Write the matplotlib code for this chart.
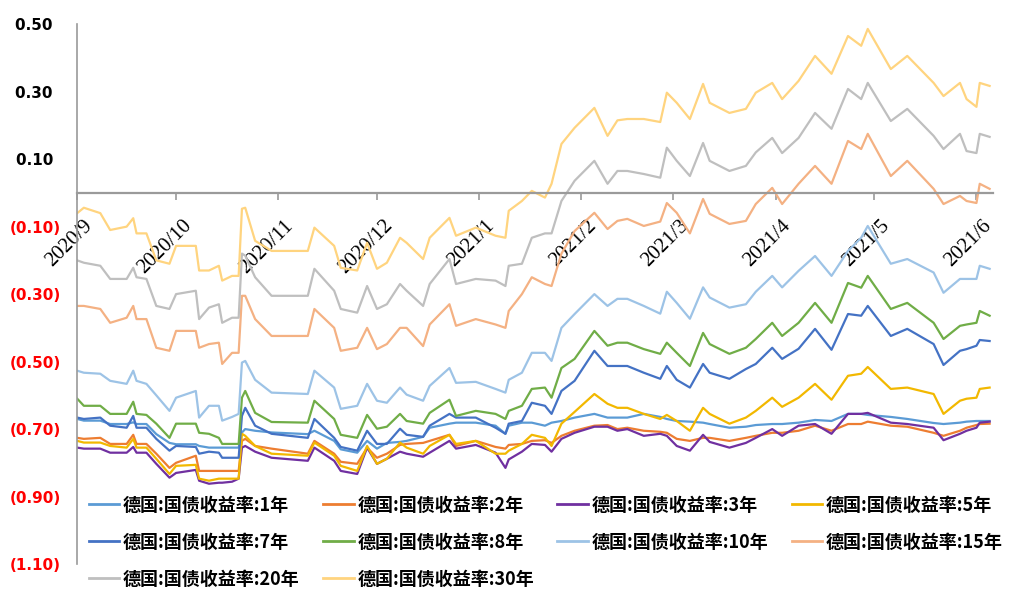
import numpy as np
import pandas as pd
import matplotlib
matplotlib.use("Agg")
import matplotlib.pyplot as plt
from matplotlib.transforms import ScaledTranslation

plt.rcParams['font.family'] = ['Noto Sans CJK SC', 'DejaVu Sans']

# observation dates (sampled)
dates = pd.to_datetime([
    "2020-09-01", "2020-09-03", "2020-09-08", "2020-09-11", "2020-09-16", "2020-09-18",
    "2020-09-19", "2020-09-22", "2020-09-25", "2020-09-29", "2020-10-01", "2020-10-07",
    "2020-10-08", "2020-10-11", "2020-10-14", "2020-10-15", "2020-10-18", "2020-10-20",
    "2020-10-21", "2020-10-22", "2020-10-25", "2020-10-30", "2020-11-10", "2020-11-12",
    "2020-11-18", "2020-11-20", "2020-11-25", "2020-11-28", "2020-12-01", "2020-12-04",
    "2020-12-08", "2020-12-10", "2020-12-15", "2020-12-17", "2020-12-23", "2020-12-25",
    "2020-12-31", "2021-01-06", "2021-01-09", "2021-01-10", "2021-01-14", "2021-01-17",
    "2021-01-21", "2021-01-23", "2021-01-26", "2021-01-30", "2021-02-05", "2021-02-09",
    "2021-02-12", "2021-02-15", "2021-02-20", "2021-02-25", "2021-02-27", "2021-03-02",
    "2021-03-06", "2021-03-10", "2021-03-12", "2021-03-18", "2021-03-23", "2021-03-26",
    "2021-03-31", "2021-04-03", "2021-04-08", "2021-04-13", "2021-04-18", "2021-04-23",
    "2021-04-27", "2021-04-29", "2021-05-06", "2021-05-11", "2021-05-19", "2021-05-22",
    "2021-05-27", "2021-05-29", "2021-06-01", "2021-06-02", "2021-06-05",
])

y1 = [-0.670, -0.675, -0.675, -0.685, -0.685, -0.680, -0.685, -0.685, -0.715, -0.741,
      -0.745, -0.745, -0.750, -0.755, -0.755, -0.755, -0.755, -0.755, -0.710, -0.700,
      -0.705, -0.710, -0.715, -0.705, -0.735, -0.760, -0.770, -0.735, -0.758, -0.741,
      -0.738, -0.735, -0.723, -0.696, -0.684, -0.681, -0.681, -0.690, -0.714, -0.690,
      -0.681, -0.681, -0.690, -0.681, -0.676, -0.666, -0.655, -0.666, -0.666, -0.666,
      -0.655, -0.664, -0.670, -0.676, -0.678, -0.681, -0.685, -0.696, -0.693, -0.688,
      -0.685, -0.685, -0.681, -0.673, -0.676, -0.655, -0.655, -0.658, -0.664, -0.670,
      -0.682, -0.685, -0.681, -0.678, -0.676, -0.676, -0.676]

y2 = [-0.726, -0.729, -0.726, -0.744, -0.744, -0.717, -0.744, -0.744, -0.773, -0.815,
      -0.800, -0.779, -0.824, -0.824, -0.824, -0.824, -0.824, -0.824, -0.735, -0.729,
      -0.750, -0.758, -0.773, -0.735, -0.773, -0.797, -0.803, -0.755, -0.785, -0.773,
      -0.747, -0.744, -0.741, -0.735, -0.717, -0.750, -0.735, -0.753, -0.758, -0.747,
      -0.744, -0.735, -0.733, -0.741, -0.720, -0.705, -0.690, -0.688, -0.700, -0.696,
      -0.705, -0.708, -0.711, -0.729, -0.735, -0.726, -0.726, -0.735, -0.726, -0.720,
      -0.711, -0.711, -0.705, -0.690, -0.705, -0.685, -0.685, -0.678, -0.690, -0.693,
      -0.711, -0.720, -0.705, -0.696, -0.688, -0.685, -0.684]

y3 = [-0.755, -0.758, -0.758, -0.770, -0.770, -0.753, -0.770, -0.770, -0.803, -0.844,
      -0.830, -0.821, -0.853, -0.862, -0.859, -0.859, -0.856, -0.847, -0.755, -0.750,
      -0.767, -0.785, -0.794, -0.755, -0.794, -0.824, -0.833, -0.755, -0.803, -0.788,
      -0.767, -0.773, -0.782, -0.770, -0.735, -0.758, -0.747, -0.770, -0.815, -0.790,
      -0.767, -0.744, -0.747, -0.767, -0.729, -0.711, -0.693, -0.693, -0.705, -0.700,
      -0.720, -0.714, -0.720, -0.750, -0.764, -0.717, -0.738, -0.755, -0.741, -0.726,
      -0.700, -0.720, -0.690, -0.685, -0.714, -0.655, -0.655, -0.652, -0.681, -0.685,
      -0.696, -0.733, -0.714, -0.705, -0.696, -0.681, -0.678]

y5 = [-0.735, -0.740, -0.740, -0.750, -0.755, -0.729, -0.755, -0.755, -0.788, -0.833,
      -0.809, -0.806, -0.847, -0.853, -0.847, -0.847, -0.847, -0.847, -0.714, -0.720,
      -0.750, -0.773, -0.779, -0.740, -0.779, -0.809, -0.824, -0.750, -0.803, -0.788,
      -0.740, -0.755, -0.773, -0.750, -0.717, -0.744, -0.735, -0.773, -0.773, -0.764,
      -0.744, -0.717, -0.726, -0.750, -0.684, -0.649, -0.596, -0.625, -0.637, -0.637,
      -0.655, -0.670, -0.658, -0.676, -0.705, -0.637, -0.655, -0.684, -0.666, -0.646,
      -0.607, -0.634, -0.607, -0.566, -0.613, -0.542, -0.536, -0.516, -0.581, -0.577,
      -0.596, -0.655, -0.616, -0.610, -0.607, -0.581, -0.577]

y7 = [-0.666, -0.670, -0.666, -0.690, -0.696, -0.661, -0.696, -0.696, -0.729, -0.764,
      -0.750, -0.753, -0.773, -0.767, -0.770, -0.785, -0.785, -0.785, -0.661, -0.637,
      -0.690, -0.714, -0.726, -0.670, -0.726, -0.753, -0.764, -0.705, -0.744, -0.744,
      -0.699, -0.717, -0.723, -0.690, -0.655, -0.666, -0.666, -0.696, -0.714, -0.684,
      -0.676, -0.622, -0.631, -0.655, -0.587, -0.557, -0.468, -0.513, -0.513, -0.513,
      -0.533, -0.551, -0.513, -0.554, -0.577, -0.507, -0.533, -0.551, -0.522, -0.507,
      -0.459, -0.492, -0.462, -0.403, -0.465, -0.359, -0.364, -0.335, -0.424, -0.403,
      -0.448, -0.510, -0.468, -0.463, -0.453, -0.436, -0.439]

y8 = [-0.610, -0.631, -0.631, -0.655, -0.655, -0.619, -0.655, -0.658, -0.684, -0.726,
      -0.684, -0.684, -0.711, -0.714, -0.726, -0.744, -0.744, -0.744, -0.607, -0.587,
      -0.652, -0.679, -0.681, -0.616, -0.670, -0.717, -0.726, -0.658, -0.699, -0.693,
      -0.655, -0.676, -0.684, -0.652, -0.613, -0.661, -0.646, -0.655, -0.670, -0.646,
      -0.631, -0.581, -0.577, -0.607, -0.519, -0.492, -0.409, -0.453, -0.444, -0.444,
      -0.463, -0.477, -0.444, -0.474, -0.513, -0.415, -0.448, -0.477, -0.459, -0.433,
      -0.385, -0.424, -0.385, -0.326, -0.385, -0.267, -0.281, -0.246, -0.344, -0.326,
      -0.385, -0.433, -0.394, -0.390, -0.385, -0.350, -0.364]

y10 = [-0.527, -0.533, -0.536, -0.557, -0.566, -0.527, -0.557, -0.566, -0.600, -0.646,
       -0.607, -0.587, -0.666, -0.631, -0.631, -0.675, -0.664, -0.655, -0.503, -0.498,
       -0.554, -0.592, -0.596, -0.527, -0.577, -0.640, -0.631, -0.566, -0.616, -0.622,
       -0.577, -0.598, -0.616, -0.572, -0.519, -0.563, -0.560, -0.581, -0.592, -0.554,
       -0.533, -0.474, -0.474, -0.498, -0.400, -0.359, -0.300, -0.335, -0.314, -0.314,
       -0.335, -0.358, -0.293, -0.326, -0.373, -0.280, -0.310, -0.340, -0.330, -0.293,
       -0.246, -0.280, -0.231, -0.187, -0.246, -0.172, -0.133, -0.098, -0.210, -0.196,
       -0.236, -0.296, -0.255, -0.255, -0.255, -0.216, -0.225]

y15 = [-0.335, -0.335, -0.344, -0.385, -0.370, -0.335, -0.374, -0.374, -0.459, -0.468,
       -0.409, -0.409, -0.459, -0.448, -0.444, -0.507, -0.474, -0.474, -0.305, -0.305,
       -0.374, -0.424, -0.424, -0.344, -0.400, -0.468, -0.459, -0.400, -0.463, -0.448,
       -0.400, -0.400, -0.454, -0.390, -0.330, -0.394, -0.374, -0.390, -0.400, -0.350,
       -0.300, -0.250, -0.270, -0.276, -0.180, -0.113, -0.059, -0.107, -0.083, -0.077,
       -0.098, -0.085, -0.030, -0.059, -0.120, -0.018, -0.062, -0.092, -0.083, -0.033,
       0.015, -0.033, 0.027, 0.080, 0.027, 0.154, 0.130, 0.175, 0.050, 0.095,
       0.012, -0.033, -0.009, -0.024, -0.030, 0.027, 0.012]

y20 = [-0.200, -0.207, -0.216, -0.255, -0.255, -0.222, -0.250, -0.255, -0.335, -0.344,
       -0.300, -0.290, -0.374, -0.340, -0.330, -0.385, -0.370, -0.370, -0.180, -0.186,
       -0.250, -0.305, -0.305, -0.225, -0.290, -0.344, -0.355, -0.276, -0.344, -0.330,
       -0.270, -0.290, -0.335, -0.270, -0.196, -0.270, -0.255, -0.260, -0.276, -0.216,
       -0.210, -0.133, -0.120, -0.120, -0.024, 0.036, 0.095, 0.027, 0.065, 0.065,
       0.056, 0.045, 0.134, 0.095, 0.050, 0.148, 0.095, 0.065, 0.080, 0.120,
       0.163, 0.118, 0.163, 0.237, 0.190, 0.308, 0.278, 0.326, 0.213, 0.249,
       0.169, 0.130, 0.175, 0.124, 0.118, 0.175, 0.166]

y30 = [-0.060, -0.044, -0.060, -0.110, -0.100, -0.075, -0.120, -0.120, -0.200, -0.210,
       -0.157, -0.157, -0.230, -0.230, -0.216, -0.260, -0.246, -0.246, -0.047, -0.044,
       -0.142, -0.172, -0.172, -0.103, -0.157, -0.222, -0.230, -0.148, -0.225, -0.207,
       -0.133, -0.148, -0.196, -0.133, -0.074, -0.127, -0.103, -0.127, -0.133, -0.053,
       -0.024, 0.006, -0.014, 0.027, 0.145, 0.193, 0.252, 0.169, 0.215, 0.219,
       0.219, 0.210, 0.297, 0.267, 0.219, 0.323, 0.267, 0.237, 0.249, 0.297,
       0.326, 0.278, 0.332, 0.406, 0.353, 0.465, 0.436, 0.486, 0.367, 0.406,
       0.326, 0.287, 0.326, 0.278, 0.255, 0.326, 0.317]

labels = ["德国:国债收益率:1年", "德国:国债收益率:2年", "德国:国债收益率:3年", "德国:国债收益率:5年",
          "德国:国债收益率:7年", "德国:国债收益率:8年", "德国:国债收益率:10年", "德国:国债收益率:15年",
          "德国:国债收益率:20年", "德国:国债收益率:30年"]
series = [y1, y2, y3, y5, y7, y8, y10, y15, y20, y30]
colors = ["#5B9BD5", "#ED7D31", "#7030A0", "#F2B800", "#4472C4",
          "#70AD47", "#9DC3E6", "#F4B183", "#BFBFBF", "#FFD47F"]

month_ticks = pd.date_range("2020-09-01", "2021-06-01", freq="MS")
yticks = [0.5, 0.3, 0.1, -0.1, -0.3, -0.5, -0.7, -0.9, -1.1]

fig = plt.figure(figsize=(10.3, 5.9), dpi=100)
ax = fig.add_axes([0.075, 0.044, 0.889, 0.915])

handles = []
for vals, lab, c in zip(series, labels, colors):
    ln, = ax.plot(dates, vals, color=c, lw=1.6, label=lab, solid_joinstyle='round')
    handles.append(ln)

ax.set_xlim(pd.Timestamp("2020-09-01"), pd.Timestamp("2021-06-06"))
ax.set_ylim(-1.1, 0.5)

# spines: gray y axis on the left, x axis running through zero
axis_gray = "#9A9A9A"
ax.spines['top'].set_visible(False)
ax.spines['right'].set_visible(False)
ax.spines['left'].set_color(axis_gray)
ax.spines['left'].set_linewidth(1.2)
ax.spines['bottom'].set_position(('data', 0))
ax.spines['bottom'].set_color(axis_gray)
ax.spines['bottom'].set_linewidth(1.6)

# month ticks, labels slanted below the zero line
ax.set_xticks(month_ticks)
ax.set_xticklabels([f"{d.year}/{d.month}" for d in month_ticks],
                   rotation=45, ha='right', va='top', rotation_mode='anchor',
                   fontfamily='Liberation Serif', fontsize=15)
ax.tick_params(axis='x', direction='out', length=5, width=1.2, color=axis_gray, pad=12)
shift = ScaledTranslation(0.06, 0, fig.dpi_scale_trans)
for lbl in ax.get_xticklabels():
    lbl.set_transform(lbl.get_transform() + shift)

# y labels: accounting style, negatives red in parentheses
def fmt_y(v):
    if v < 0:
        return f"({abs(v):.2f})"
    return f"{v:.2f}\u2002"

ax.set_yticks(yticks)
ax.set_yticklabels([fmt_y(v) for v in yticks])
ax.tick_params(axis='y', length=0, pad=12)
for v, lbl in zip(yticks, ax.get_yticklabels()):
    lbl.set_fontfamily('DejaVu Sans')
    lbl.set_fontweight('bold')
    lbl.set_fontsize(11)
    lbl.set_color('#FF0000' if v < 0 else '#000000')

# legend filled column by column, so order entries to read across rows
order = [0, 4, 8, 1, 5, 9, 2, 6, 3, 7]
leg = ax.legend([handles[i] for i in order], [labels[i] for i in order],
                loc='upper left', bbox_to_anchor=(0.086, 0.16),
                bbox_transform=fig.transFigure, ncol=4, frameon=False,
                prop={'family': ['Noto Sans CJK SC', 'DejaVu Sans'], 'weight': 'bold', 'size': 13},
                handlelength=1.7, handletextpad=0.2, columnspacing=1.3,
                labelspacing=1.0, borderpad=0, borderaxespad=0)
for h in leg.get_lines():
    h.set_linewidth(2)

fig.savefig("out.png", dpi=100, facecolor='white')
